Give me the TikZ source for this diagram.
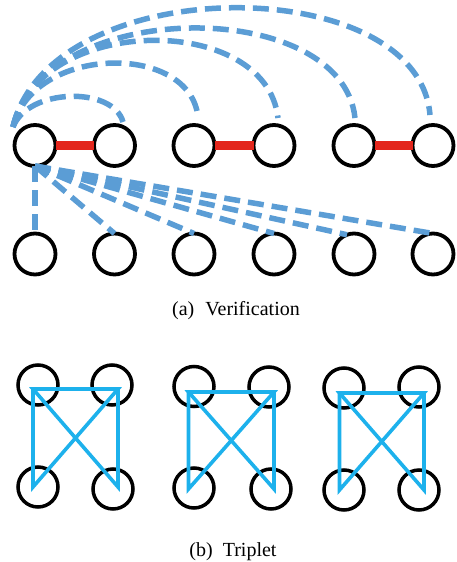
\documentclass[tikz,border=0pt]{standalone}
\usepackage{fontspec}
\setmainfont{Liberation Serif}
\definecolor{arcblue}{RGB}{91,157,213}
\definecolor{tripcyan}{RGB}{29,177,236}
\definecolor{barred}{RGB}{227,38,28}
\tikzset{
  ring/.style={circle,draw=black,line width=3.8pt,minimum size=41pt,inner sep=0pt,outer sep=0pt,fill=none},
  smallring/.style={circle,draw=black,line width=3.5pt,minimum size=40pt,inner sep=0pt,outer sep=0pt},
  pairbar/.style={draw=barred,line width=9pt},
  negdash/.style={draw=arcblue,line width=5.5pt,dash pattern=on 16pt off 8pt},
  tripline/.style={draw=tripcyan,line width=3.6pt,line join=miter},
  captext/.style={font=\fontsize{20}{24}\selectfont,anchor=base,inner sep=0pt}
}
\begin{document}
\begin{tikzpicture}[x=1pt,y=-1pt]
\useasboundingbox (0,0) rectangle (456,562);
% top row
\node[ring] (t1) at (35,145.5) {};
\node[ring] (t2) at (114.5,145.5) {};
\node[ring] (t3) at (194,145.5) {};
\node[ring] (t4) at (274,145.5) {};
\node[ring] (t5) at (354,145.5) {};
\node[ring] (t6) at (433,145.5) {};
% bottom row
\node[ring] (b1) at (35,254) {};
\node[ring] (b2) at (114.5,254) {};
\node[ring] (b3) at (194,254) {};
\node[ring] (b4) at (274,254) {};
\node[ring] (b5) at (354,254) {};
\node[ring] (b6) at (433,254) {};
% red pair bars
\draw[pairbar] (t1) -- (t2);
\draw[pairbar] (t3) -- (t4);
\draw[pairbar] (t5) -- (t6);
% arc end points
\coordinate (as) at (13,127);
\coordinate (e2) at (123,122);
\coordinate (e3) at (198,117);
\coordinate (e4) at (278,118);
\coordinate (e5) at (355,118);
\coordinate (e6) at (430,115);
\draw[negdash] (as) .. controls (28,88) and (113,86) .. (e2);
\draw[negdash] (as) .. controls (33,45) and (190,42) .. (e3);
\draw[negdash] (as) .. controls (38,14) and (266,12) .. (e4);
\draw[negdash] (as) .. controls (44,-3) and (342,-4) .. (e5);
\draw[negdash] (as) .. controls (50,-30) and (418,-30) .. (e6);
% lower dashed lines
\draw[negdash] (t1.south) -- (b1.north);
\draw[negdash] (t1.south) -- (b2.north);
\draw[negdash] (t1.south) -- (b3.north);
\draw[negdash] (t1.south) -- (b4.north);
\draw[negdash] (t1.south) -- (b5.110);
\draw[negdash] (t1.south) -- (b6.north);
% caption a
\node[captext] (capa) at (236,315) {(a)\hspace{11pt}Verification};
% triplet groups
\node[smallring] (p1) at (38,385) {};
\node[smallring] (q1) at (112,385) {};
\node[smallring] (r1) at (38,487) {};
\node[smallring] (s1) at (113,489) {};
\node[smallring] (p2) at (194,386.5) {};
\node[smallring] (q2) at (269,387) {};
\node[smallring] (r2) at (194,488) {};
\node[smallring] (s2) at (271,489) {};
\node[smallring] (p3) at (344,388) {};
\node[smallring] (q3) at (419,387) {};
\node[smallring] (r3) at (344,490) {};
\node[smallring] (s3) at (419,490) {};
\coordinate (A1) at (33,389); \coordinate (B1) at (118,389);
\coordinate (C1) at (33,487); \coordinate (D1) at (118,487);
\coordinate (A2) at (188.5,392); \coordinate (B2) at (274,392);
\coordinate (C2) at (188.5,489); \coordinate (D2) at (274,489);
\coordinate (A3) at (339.5,393); \coordinate (B3) at (424,393);
\coordinate (C3) at (339.5,490); \coordinate (D3) at (424,490);
\foreach \g in {1,2,3}{
  \draw[tripline] (A\g) -- (B\g) -- (C\g) -- cycle;
  \draw[tripline] (A\g) -- (B\g) -- (D\g) -- cycle;
}
% caption b
\node[captext] (capb) at (233,556) {(b)\hspace{10pt}Triplet};
\end{tikzpicture}
\end{document}
